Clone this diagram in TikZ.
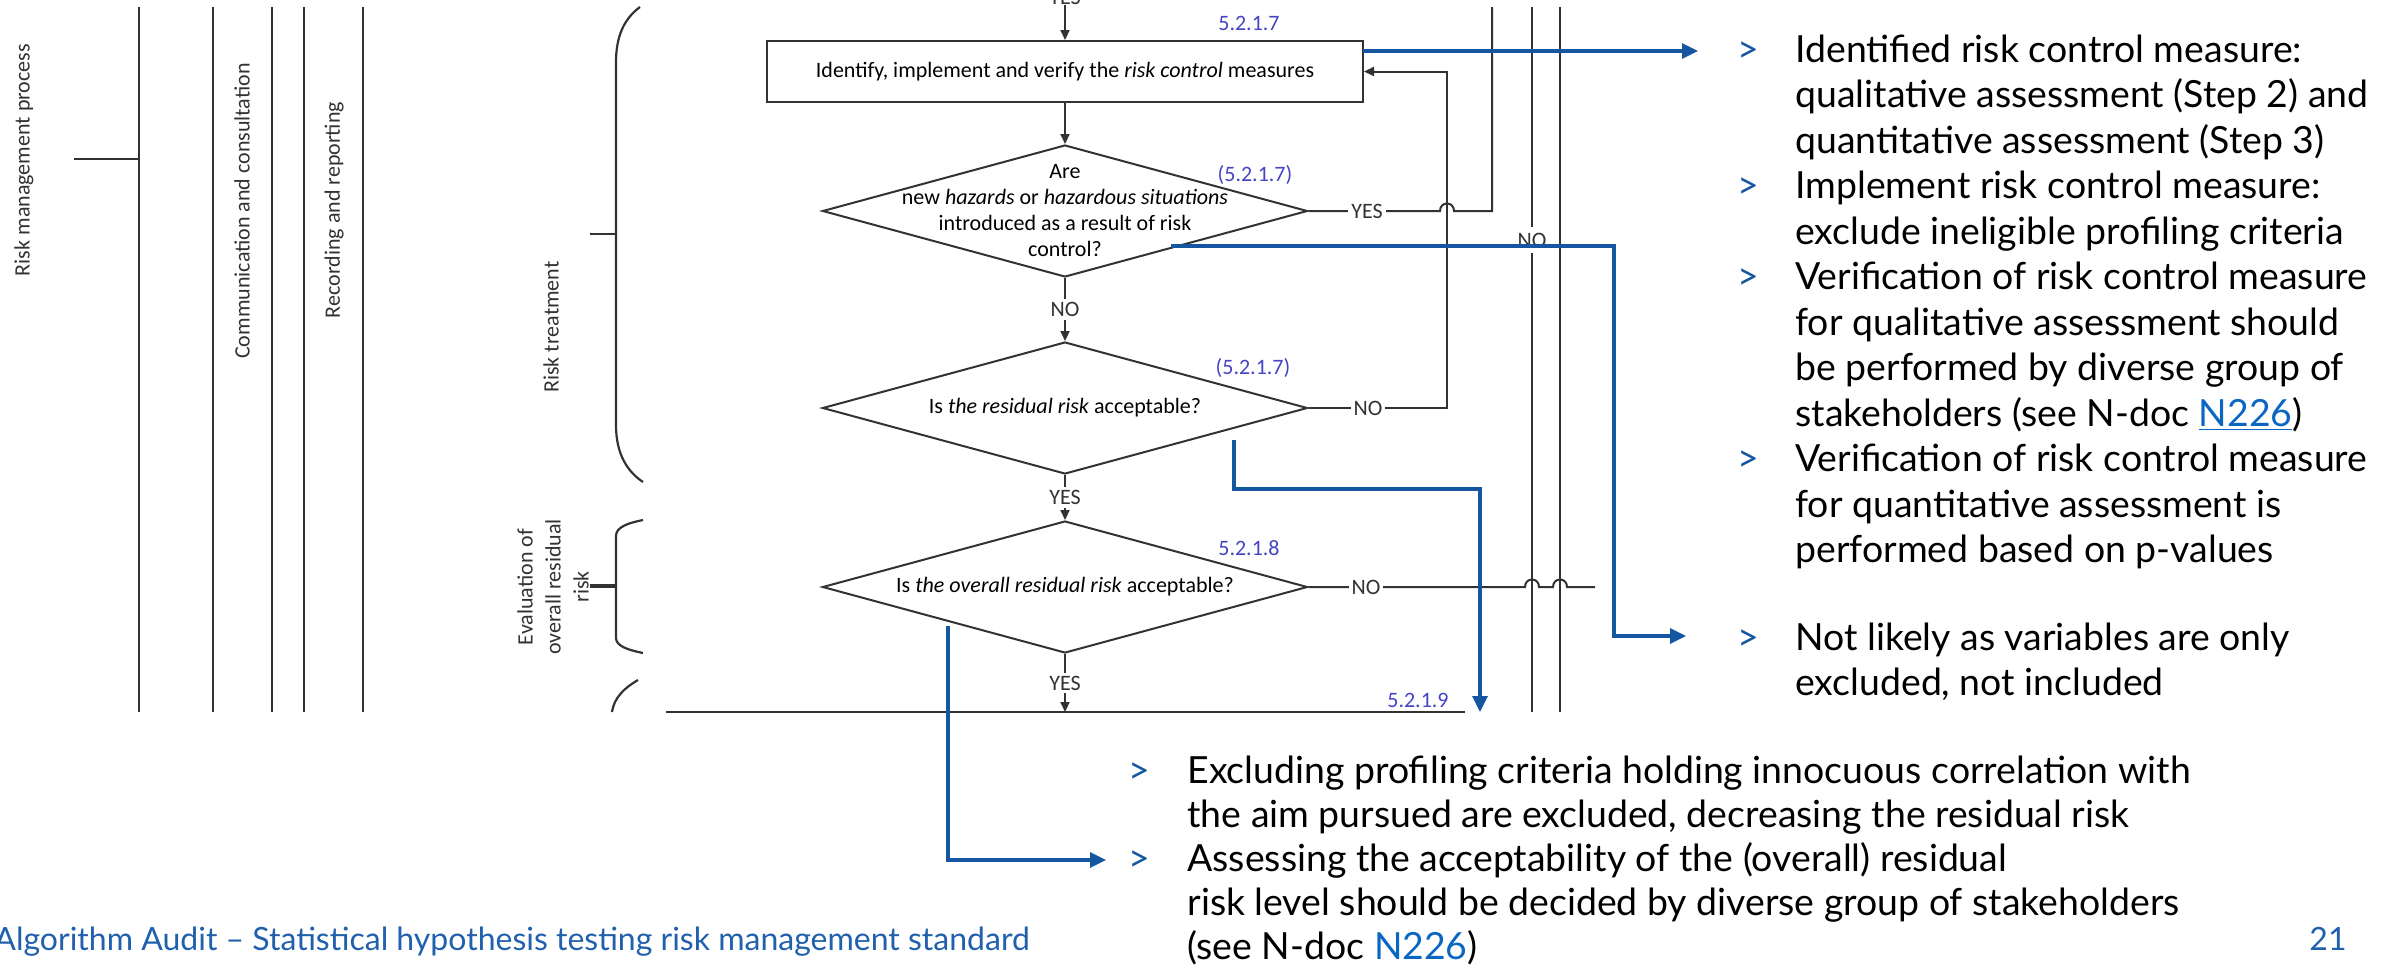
\documentclass[tikz,border=0pt]{standalone}
\usepackage{fontspec}
\setmainfont{Lato}
\newfontfamily\calfont{Carlito}
\usetikzlibrary{arrows.meta,shapes.geometric}
\definecolor{ink}{RGB}{50,50,50}
\definecolor{navy}{RGB}{20,86,160}
\definecolor{secnum}{RGB}{68,68,196}
\definecolor{linkblue}{RGB}{10,102,194}
\definecolor{footblue}{RGB}{32,96,172}

\begin{document}
\begin{tikzpicture}[x=0.5pt,y=-0.5pt,
  flow/.style={draw=ink,line width=1pt},
  karrow/.style={flow,-{Triangle[length=5pt,width=4.5pt]}},
  barrow/.style={draw=navy,line width=1.6pt,-{Triangle[length=8pt,width=7.5pt]}},
  procbox/.style={rectangle,draw=ink,line width=1pt,minimum width=298pt,minimum height=30.5pt,inner sep=0pt,font=\calfont\fontsize{11}{13}\selectfont},
  decision/.style={diamond,draw=ink,line width=1pt,minimum width=242.5pt,minimum height=66pt,inner sep=0pt},
  qtext/.style={font=\calfont\fontsize{11}{13}\selectfont,align=center,inner sep=0pt},
  tag/.style={font=\calfont\fontsize{11}{13}\selectfont,text=ink,fill=white,inner sep=1.5pt},
  secno/.style={font=\calfont\fontsize{11}{13}\selectfont,text=secnum,inner sep=0pt},
  vlabel/.style={font=\calfont\fontsize{11}{14}\selectfont,text=ink,rotate=90,align=center,inner sep=0pt},
  rail/.style={draw=ink,line width=1.1pt},
  chev/.style={font=\fontsize{18.7}{22}\selectfont,text=navy,anchor=base west,inner sep=0pt},
  note/.style={font=\fontsize{18.7}{22.75}\selectfont,text=black,align=left,anchor=base west,inner sep=0pt},
  bnote/.style={font=\fontsize{18.7}{22}\selectfont,text=black,align=left,anchor=base west,inner sep=0pt},
]
\useasboundingbox (0,0) rectangle (2397,965);

% ---- process rails on the left ----
\foreach \x in {139,213,272,304,363} \draw[rail] (\x,7) -- (\x,712);
\draw[rail] (74,159) -- (139,159);
\node[vlabel] (lrmp) at (24,160) {Risk management process};
\node[vlabel] (lcom) at (242,211) {Communication and consultation};
\node[vlabel] (lrec) at (334,210) {Recording and reporting};
\node[vlabel] (ltreat) at (551,327) {Risk treatment};
\node[vlabel] (leval) at (553,587) {Evaluation of\\overall residual\\risk};

% ---- brackets grouping the steps ----
\draw[rail] (640,7) .. controls (625,18) and (616,35) .. (616,62) -- (616,425)
  .. controls (616,455) and (628,472) .. (643,482);
\draw[rail] (590,234) -- (616,234);
\draw[rail] (643,520) .. controls (628,523) and (616,527) .. (616,536) -- (616,638)
  .. controls (616,646) and (628,650) .. (643,653);
\draw[rail,line width=1.6pt] (590,586) -- (616,586);
\draw[rail] (638,680) .. controls (624,688) and (614,698) .. (612,712);

% ---- flowchart ----
\node[tag,anchor=base,inner sep=0pt] (ytop) at (1065,4) {YES};
\node[procbox] (box) at (1065,71.5) {Identify, implement and verify the \textit{risk control} measures};
\node[decision] (d1) at (1065,211) {};
\node[qtext] (t1) at (1065,211) {Are\\new \textit{hazards} or \textit{hazardous situations}\\introduced as a result of risk\\control?};
\node[decision] (d2) at (1065,408) {};
\node[qtext] (t2) at (1065,408) {Is \textit{the residual risk} acceptable?};
\node[decision] (d3) at (1065,587) {};
\node[qtext] (t3) at (1065,587) {Is \textit{the overall residual risk} acceptable?};

\coordinate (baseL) at (666,712);
\coordinate (baseR) at (1465,712);
\coordinate (baseM) at (1065,712);
\draw[flow] (baseL) -- (baseR);

\draw[karrow] (ytop.south) -- (box.north);
\draw[karrow] (box.south) -- (d1.north);
\draw[karrow] (d1.south) -- node[tag] (no1) {NO} (d2.north);
\draw[karrow] (d2.south) -- node[tag] (yes2) {YES} (d3.north);
\draw[karrow] (d3.south) -- node[tag] (yes3) {YES} (baseM);

% side rails of the flowchart
\draw[rail] (1532,7) -- (1532,712);
\draw[rail] (1560,7) -- (1560,712);
\node[tag,inner sep=3pt] (nov) at (1532,240) {NO};

% loop-backs
\coordinate (yesup) at (1492,7);
\draw[flow] (d1.east) -- (1440,211) .. controls (1440,201) and (1454,201) .. (1454,211)
  -- (1492,211) -- (yesup);
\node[tag] (yes1) at (1367,211) {YES};
\draw[karrow] (d2.east) -- (1447,408) -- (1447,71.5) -- (box.east);
\node[tag] (no2) at (1368,408) {NO};
\coordinate (noend) at (1595,587);
\draw[flow] (d3.east) -- (1525,587) .. controls (1525,577) and (1539,577) .. (1539,587)
  -- (1553,587) .. controls (1553,577) and (1567,577) .. (1567,587) -- (noend);
\node[tag] (no3) at (1366,587) {NO};

% clause numbers
\node[secno] (n1) at (1249,23) {5.2.1.7};
\node[secno] (n2) at (1255,175) {(5.2.1.7)};
\node[secno] (n3) at (1253,368) {(5.2.1.7)};
\node[secno] (n4) at (1249,548) {5.2.1.8};
\node[secno] (n5) at (1418,700) {5.2.1.9};

% ---- notes on the right (nodes sit on the baseline of their last line) ----
\node[chev] (g1) at (1737,62) {>};
\node[note] (b1) at (1795,153) {Identified risk control measure:\\qualitative assessment (Step 2) and\\quantitative assessment (Step 3)};
\node[chev] (g2) at (1737,198.5) {>};
\node[note] (b2) at (1795,244) {Implement risk control measure:\\exclude ineligible profiling criteria};
\node[chev] (g3) at (1737,289.5) {>};
\node[note] (b3) at (1795,426) {Verification of risk control measure\\for qualitative assessment should\\be performed by diverse group of\\stakeholders (see N-doc {\color{linkblue}\underline{N226}})};
\node[chev] (g4) at (1737,471.5) {>};
\node[note] (b4) at (1795,562.5) {Verification of risk control measure\\for quantitative assessment is\\performed based on p-values};
\node[chev] (g5) at (1737,650) {>};
\node[note] (b5) at (1795,695.5) {Not likely as variables are only\\excluded, not included};

% ---- notes below ----
\node[chev] (g6) at (1128,783) {>};
\node[bnote] (c1) at (1187,827) {Excluding profiling criteria holding innocuous correlation with\\the aim pursued are excluded, decreasing the residual risk};
\node[chev] (g7) at (1128,871) {>};
\node[bnote] (c2) at (1187,959) {Assessing the acceptability of the (overall) residual\\risk level should be decided by diverse group of stakeholders\\(see N-doc {\color{linkblue}N226})};

% ---- pointers from the flowchart to the notes ----
\coordinate (s1) at (1363,51);
\coordinate (e1) at (1698,51);
\draw[barrow] (s1) -- (e1);
\coordinate (s2) at (1171,246);
\coordinate (e2) at (1686,636);
\draw[barrow] (s2) -- (1614,246) |- (e2);
\coordinate (s3) at (1234,440);
\coordinate (e3) at (1480,712);
\draw[barrow] (s3) |- (1480,489) -- (e3);
\coordinate (s4) at (948,626);
\coordinate (e4) at (1106,860);
\draw[barrow] (s4) |- (e4);

% ---- footer ----
\node[anchor=base west,inner sep=0pt,font=\fontsize{16}{18}\selectfont,text=footblue] (foot) at (-6,950) {Algorithm Audit – Statistical hypothesis testing risk management standard};
\node[anchor=base,inner sep=0pt,font=\fontsize{16}{18}\selectfont,text=footblue] (pg) at (2328,950) {21};
\end{tikzpicture}
\end{document}
